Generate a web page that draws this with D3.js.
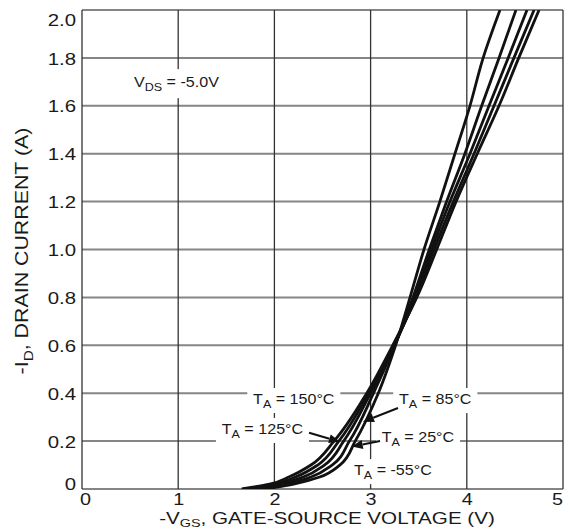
<!DOCTYPE html>
<html>
<head>
<meta charset="utf-8">
<script src="https://cdn.jsdelivr.net/npm/d3@7"></script>
<style>
  html, body { margin: 0; padding: 0; background: #fff; overflow: hidden; }
  svg { display: block; }
</style>
</head>
<body>
<svg id="chart" width="572" height="529"></svg>
<script>
// Axis tick values
const voltTicks = [0, 1, 2, 3, 4, 5];
const currentTicks = [0, 0.2, 0.4, 0.6, 0.8, 1.0, 1.2, 1.4, 1.6, 1.8, 2.0];

// Drain current levels (A) at which the gate-source voltage of each curve is listed
const currentLevels = [0, 0.02, 0.05, 0.1, 0.2, 0.4, 0.6, 0.8, 1.0, 1.2, 1.4, 1.6, 1.8, 2.0];

// -VGS (V) for each ambient temperature
const vgsMinus55 = [1.90, 2.20, 2.47, 2.68, 2.84, 3.08, 3.26, 3.41, 3.555, 3.72, 3.877, 4.033, 4.17, 4.345];
const vgs25      = [1.80, 2.13, 2.38, 2.60, 2.78, 3.03, 3.25, 3.44, 3.61, 3.79, 3.98, 4.155, 4.335, 4.511];
const vgs85      = [1.75, 2.06, 2.30, 2.52, 2.72, 3.00, 3.25, 3.46, 3.635, 3.825, 4.033, 4.231, 4.43, 4.626];
const vgs125     = [1.70, 2.00, 2.22, 2.45, 2.67, 2.98, 3.24, 3.47, 3.659, 3.86, 4.075, 4.283, 4.49, 4.699];
const vgs150     = [1.66, 1.95, 2.15, 2.38, 2.62, 2.96, 3.23, 3.48, 3.687, 3.888, 4.109, 4.335, 4.54, 4.751];

const temperatures = ["-55", "25", "85", "125", "150"];
const seriesVgs = [vgsMinus55, vgs25, vgs85, vgs125, vgs150];

// Annotation text anchors and arrows, in data units (V, A)
const tempLabelPos = [
  { t: "-55", v: 2.827, i: 0.058 },
  { t: "25",  v: 3.115, i: 0.198 },
  { t: "85",  v: 3.295, i: 0.355 },
  { t: "125", v: 1.452, i: 0.230 },
  { t: "150", v: 1.778, i: 0.355 }
];
const tempArrows = [
  { from: [2.36, 0.235], to: [2.682, 0.197] },
  { from: [3.285, 0.338], to: [2.921, 0.281] },
  { from: [3.098, 0.200], to: [2.804, 0.177] }
];
const vdsLabelPos = { v: 0.54, i: 1.678 };

const FONT = "'Liberation Sans', Arial, Helvetica, sans-serif";
const svg = d3.select("#chart");

const x = d3.scaleLinear().domain([0, 5]).range([82, 563]);
const y = d3.scaleLinear().domain([0, 2]).range([489, 10]);

// Grid
const grid = svg.append("g");
grid.selectAll("line.h").data(currentTicks).join("line")
  .attr("class", "h")
  .attr("x1", x(0)).attr("x2", x(5))
  .attr("y1", d => y(d)).attr("y2", d => y(d))
  .attr("stroke", "#858585").attr("stroke-width", 2);
grid.selectAll("line.v").data(voltTicks).join("line")
  .attr("class", "v")
  .attr("x1", d => x(d)).attr("x2", d => x(d))
  .attr("y1", y(0)).attr("y2", y(2))
  .attr("stroke", "#333").attr("stroke-width", 1.3);

// Text helper: horizontally widened text made of plain and subscript pieces
function widenedText(parent, px, py, size, sx, parts, opts) {
  const o = opts || {};
  const shift = o.subShift != null ? o.subShift : size * 0.3;
  const subScale = o.subScale || 0.78;
  const g = parent.append("g")
    .attr("transform", `translate(${px},${py})` + (o.rotate ? ` rotate(${o.rotate})` : "") + ` scale(${sx},1)`);
  const t = g.append("text")
    .attr("font-family", FONT).attr("font-size", size)
    .attr("text-anchor", o.anchor || "start").attr("fill", "#1a1a1a");
  let lowered = false;
  parts.forEach(p => {
    const ts = t.append("tspan").text(p.s);
    if (p.sub) {
      ts.attr("font-size", size * subScale).attr("dy", shift);
      lowered = true;
    } else if (lowered) {
      ts.attr("dy", -shift);
      lowered = false;
    }
  });
  return g;
}

function boxed(g, padX, padY) {
  const b = g.node().getBBox();
  g.insert("rect", "text")
    .attr("x", b.x - padX).attr("y", b.y - padY)
    .attr("width", b.width + 2 * padX).attr("height", b.height + 2 * padY)
    .attr("fill", "#fff");
}

// Axes
const yAxis = svg.append("g").attr("transform", `translate(${x(0)},0)`)
  .call(d3.axisLeft(y).tickValues(currentTicks).tickSize(0).tickPadding(5)
    .tickFormat(d => d === 0 ? "0" : d3.format(".1f")(d)));
yAxis.select(".domain").remove();
yAxis.selectAll("text")
  .attr("font-family", FONT).attr("font-size", 17).attr("fill", "#1a1a1a")
  .attr("transform", "scale(1.2,1)")
  .attr("y", d => Math.min(Math.max(y(d), y(2) + 9), y(0) - 6) - y(d))
  .attr("dy", "0.36em");

const xAxis = svg.append("g").attr("transform", `translate(0,${y(0)})`)
  .call(d3.axisBottom(x).tickValues(voltTicks).tickSize(0).tickPadding(0)
    .tickFormat(d3.format("d")));
xAxis.select(".domain").remove();
xAxis.selectAll("text")
  .attr("font-family", FONT).attr("font-size", 16.5).attr("fill", "#1a1a1a")
  .attr("dy", null).attr("y", 16.5)
  .attr("x", d => (Math.min(Math.max(x(d), x(0) + 3), x(5) - 6) - x(d)) / 1.2)
  .attr("transform", "scale(1.2,1)");

// Axis titles
widenedText(svg, 28, 251, 17.8, 1.2,
  [{ s: "-I" }, { s: "D", sub: true }, { s: ", DRAIN CURRENT (A)" }],
  { anchor: "middle", rotate: -90, subScale: 0.72 });
widenedText(svg, 327, 524, 16.5, 1.25,
  [{ s: "-V" }, { s: "GS", sub: true }, { s: ", GATE-SOURCE VOLTAGE (V)" }],
  { anchor: "middle", subShift: 2.5, subScale: 0.7 });

// Annotations (white boxes interrupt the grid)
const notes = svg.append("g");
const vds = widenedText(notes, x(vdsLabelPos.v), y(vdsLabelPos.i), 14, 1.15,
  [{ s: "V" }, { s: "DS", sub: true }, { s: " = -5.0V" }]);
boxed(vds, 4, 5);
tempLabelPos.forEach(p => {
  const g = widenedText(notes, x(p.v), y(p.i), 14, 1.15,
    [{ s: "T" }, { s: "A", sub: true }, { s: " = " + p.t + "\u00B0C" }]);
  boxed(g, 5, 3);
});

// Transfer curves
const clip = svg.append("clipPath").attr("id", "plotClip")
  .append("rect").attr("x", x(0)).attr("y", y(2)).attr("width", x(5) - x(0)).attr("height", y(0) - y(2));

const line = d3.line()
  .x(d => x(d[0])).y(d => y(d[1]))
  .curve(d3.curveMonotoneY);

svg.append("g").attr("clip-path", "url(#plotClip)")
  .selectAll("path").data(seriesVgs).join("path")
  .attr("d", vs => line(vs.map((v, k) => [v, currentLevels[k]])))
  .attr("fill", "none").attr("stroke", "#111").attr("stroke-width", 2.8)
  .attr("stroke-linejoin", "round");

// Arrows to the curves
const arrows = svg.append("g");
tempArrows.forEach(a => {
  const x0 = x(a.from[0]), y0 = y(a.from[1]);
  const x1 = x(a.to[0]), y1 = y(a.to[1]);
  const dx = x1 - x0, dy = y1 - y0, len = Math.hypot(dx, dy);
  const ux = dx / len, uy = dy / len;
  const head = 11, half = 4.5;
  const bx = x1 - ux * head, by = y1 - uy * head;
  arrows.append("line")
    .attr("x1", x0).attr("y1", y0).attr("x2", bx).attr("y2", by)
    .attr("stroke", "#111").attr("stroke-width", 2);
  arrows.append("path")
    .attr("d", `M${x1},${y1}L${bx - uy * half},${by + ux * half}L${bx + uy * half},${by - ux * half}Z`)
    .attr("fill", "#111");
});
</script>
</body>
</html>
